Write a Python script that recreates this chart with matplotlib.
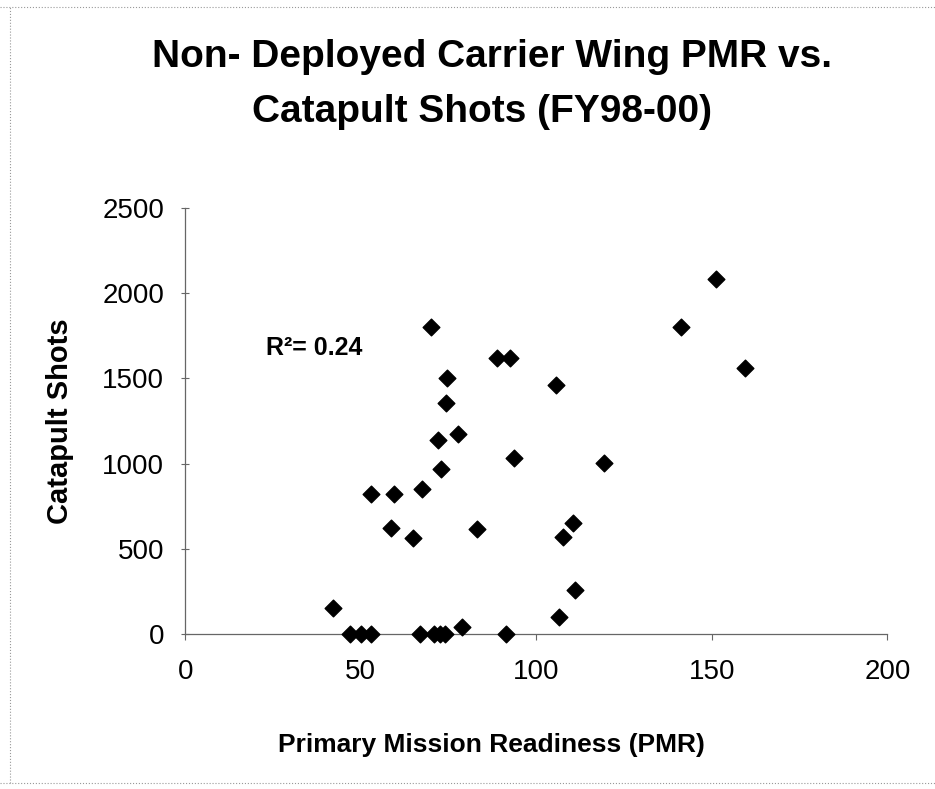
import matplotlib
matplotlib.use("Agg")
import matplotlib.pyplot as plt
from matplotlib.lines import Line2D

# PMR vs catapult shots
pmr = [42, 47, 50, 53, 53, 59.5, 58.7, 65, 67.5, 67, 70, 71, 72.5, 74,
       72, 73, 74.7, 74.4, 77.7, 79, 83, 88.7, 92.4, 93.7, 91.3,
       105.5, 107.5, 110.6, 111, 106.4, 119.3, 141.2, 151.3, 159.6]
shots = [151, 0, 0, 0, 819, 819, 622, 566, 849, 0, 1800, 0, 0, 0,
         1137, 971, 1500, 1353, 1176, 40, 618, 1622, 1618, 1034, 0,
         1461, 569, 651, 259, 98, 1002, 1804, 2082, 1559]

x_ticks = [0, 50, 100, 150, 200]
y_ticks = [0, 500, 1000, 1500, 2000, 2500]
r2_text = "R\u00b2= 0.24"

plt.rcParams["font.family"] = ["Liberation Sans", "DejaVu Sans"]

fig = plt.figure(figsize=(9.35, 7.89), dpi=100)
ax = fig.add_axes([0.198, 0.1965, 0.751, 0.5399])

ax.scatter(pmr, shots, marker="D", s=72, color="black", zorder=3, clip_on=False)

ax.set_xlim(0, 200)
ax.set_ylim(0, 2500)
ax.set_xticks(x_ticks)
ax.set_yticks(y_ticks)
ax.tick_params(axis="x", labelsize=20, direction="out", length=4, width=0.8,
               color="#666666", pad=14)
ax.tick_params(axis="y", labelsize=20, direction="inout", length=6, width=0.8,
               color="#666666", pad=12)

for side in ["top", "right"]:
    ax.spines[side].set_visible(False)
for side in ["left", "bottom"]:
    ax.spines[side].set_color("#666666")
    ax.spines[side].set_linewidth(0.9)

ax.text(23, 1640, r2_text, fontsize=18, fontweight="bold", va="baseline")

fig.text(0.526, 1 - 57 / 789, "Non- Deployed Carrier Wing PMR vs.",
         ha="center", va="center", fontsize=28, fontweight="bold")
fig.text(0.515, 1 - 112 / 789, "Catapult Shots (FY98-00)",
         ha="center", va="center", fontsize=28, fontweight="bold")

fig.text(0.526, 1 - 745 / 789, "Primary Mission Readiness (PMR)",
         ha="center", va="center", fontsize=19, fontweight="bold")
fig.text(0.064, 1 - 421 / 789, "Catapult Shots", rotation=90,
         ha="center", va="center", fontsize=21, fontweight="bold")

# faint scan border lines
for xs, ys in [([0, 1], [0.991, 0.991]), ([0, 1], [0.008, 0.008]),
               ([0.011, 0.011], [0.008, 0.991])]:
    fig.add_artist(Line2D(xs, ys, transform=fig.transFigure, color="#999999",
                          lw=0.8, ls=":"))

fig.savefig("out.png", dpi=100)
